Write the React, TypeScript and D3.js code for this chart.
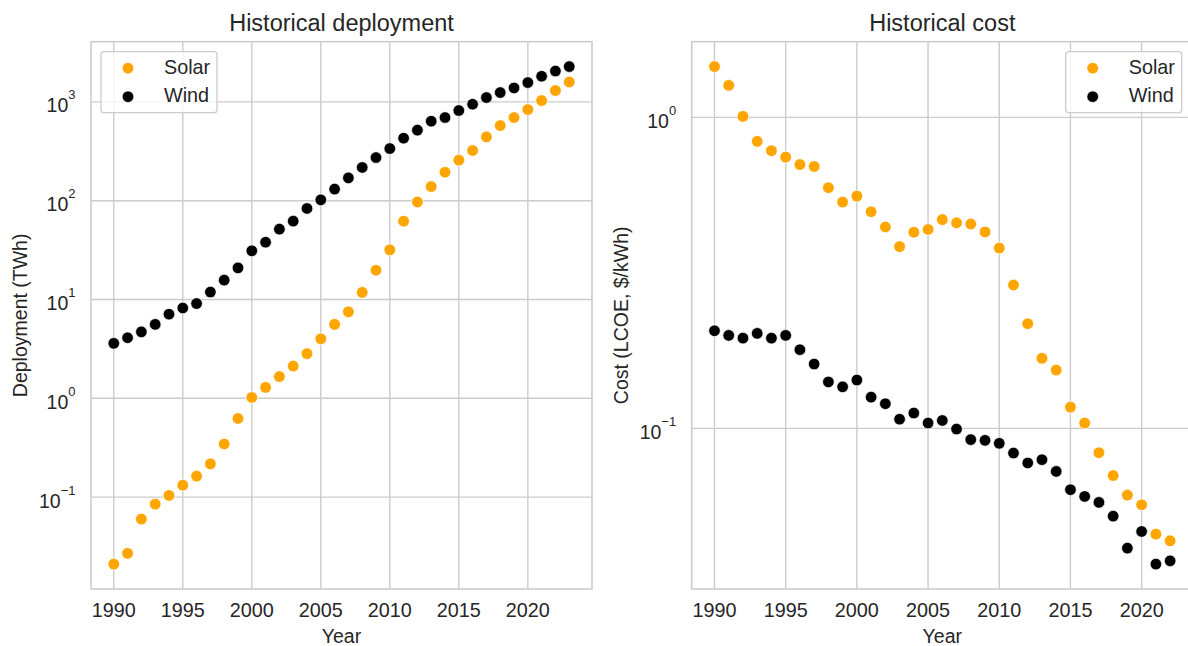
import React from "react";
import * as d3 from "d3";

const years = d3.range(1990, 2024);
const costYears = d3.range(1990, 2023);

const solarDeploy = [0.021, 0.027, 0.06, 0.085, 0.104, 0.132, 0.163, 0.217, 0.345, 0.625, 1.02, 1.29, 1.66, 2.12, 2.83, 4.0, 5.6, 7.5, 11.8, 19.8, 31.8, 62, 97, 139, 194, 257, 322, 442, 576, 694, 836, 1030, 1300, 1589];
const windDeploy = [3.6, 4.1, 4.7, 5.6, 7.1, 8.2, 9.1, 11.9, 15.7, 20.9, 31.1, 38.0, 51.5, 62.1, 83.4, 102, 131, 170, 217, 273, 337, 429, 517, 637, 694, 817, 946, 1105, 1242, 1383, 1567, 1815, 2051, 2275];

const solarCost = [1.456, 1.267, 1.007, 0.837, 0.781, 0.745, 0.705, 0.695, 0.594, 0.534, 0.558, 0.497, 0.444, 0.384, 0.427, 0.436, 0.469, 0.458, 0.454, 0.428, 0.38, 0.289, 0.217, 0.168, 0.154, 0.117, 0.104, 0.0835, 0.0705, 0.061, 0.0568, 0.0457, 0.0435];
const windCost = [0.206, 0.199, 0.195, 0.202, 0.195, 0.199, 0.179, 0.161, 0.141, 0.136, 0.143, 0.126, 0.12, 0.107, 0.112, 0.104, 0.106, 0.0995, 0.092, 0.0915, 0.0895, 0.0833, 0.0774, 0.0793, 0.0727, 0.0635, 0.0604, 0.0578, 0.0522, 0.0412, 0.0466, 0.0366, 0.0375];

const xTicks = [1990, 1995, 2000, 2005, 2010, 2015, 2020];
const leftYTicks = [-1, 0, 1, 2, 3];
const rightYTicks = [-1, 0];

const ORANGE = "#FFA500";
const BLACK = "#000000";
const GRID = "#cccccc";
const TEXT = "#262626";
const FONT = "'Liberation Sans', Arial, sans-serif";

function logDomain(vals: number[]) {
  const lo = Math.log10(d3.min(vals) as number);
  const hi = Math.log10(d3.max(vals) as number);
  const m = (hi - lo) * 0.05;
  return [Math.pow(10, lo - m), Math.pow(10, hi + m)];
}
function linDomain(vals: number[]) {
  const lo = d3.min(vals) as number;
  const hi = d3.max(vals) as number;
  const m = (hi - lo) * 0.05;
  return [lo - m, hi + m];
}

type PanelProps = {
  x0: number; x1: number; y0: number; y1: number;
  yrs: number[]; solar: number[]; wind: number[];
  yTicks: number[]; title: string; ylabel: string; ylabelX: number;
  legendRight: boolean;
};

function Panel(p: PanelProps) {
  const xs = d3.scaleLinear().domain(linDomain(p.yrs)).range([p.x0, p.x1]);
  const ys = d3.scaleLog().domain(logDomain([...p.solar, ...p.wind])).range([p.y1, p.y0]);
  const cx = (p.x0 + p.x1) / 2;
  const cy = (p.y0 + p.y1) / 2;
  const clipId = "clip" + Math.round(p.x0);
  const lw = 116, lh = 61;
  const lx = p.legendRight ? 1065.7 : p.x0 + 10;
  const ly = p.y0 + 10;
  return (
    <g>
      <defs>
        <clipPath id={clipId}>
          <rect x={p.x0} y={p.y0} width={p.x1 - p.x0} height={p.y1 - p.y0} />
        </clipPath>
      </defs>
      {xTicks.map((t) => (
        <line key={"gx" + t} x1={xs(t)} x2={xs(t)} y1={p.y0} y2={p.y1} stroke={GRID} strokeWidth={1.4} />
      ))}
      {p.yTicks.map((e) => (
        <line key={"gy" + e} x1={p.x0} x2={p.x1} y1={ys(Math.pow(10, e))} y2={ys(Math.pow(10, e))} stroke={GRID} strokeWidth={1.4} />
      ))}
      <rect x={p.x0} y={p.y0} width={p.x1 - p.x0} height={p.y1 - p.y0} fill="none" stroke={GRID} strokeWidth={1.6} />
      <g clipPath={`url(#${clipId})`}>
        {p.solar.map((v, i) => (
          <circle key={"s" + i} cx={xs(p.yrs[i])} cy={ys(v)} r={5.8} fill={ORANGE} stroke="#fff" strokeWidth={0.7} />
        ))}
        {p.wind.map((v, i) => (
          <circle key={"w" + i} cx={xs(p.yrs[i])} cy={ys(v)} r={5.8} fill={BLACK} stroke="#fff" strokeWidth={0.7} />
        ))}
      </g>
      {xTicks.map((t) => (
        <text key={"tx" + t} x={xs(t)} y={617.3} textAnchor="middle" fontSize={19.8} fill={TEXT} fontFamily={FONT}>{t}</text>
      ))}
      {p.yTicks.map((e) => (
        <text key={"ty" + e} x={p.x0 - 15.5} y={ys(Math.pow(10, e)) + 10.5} textAnchor="end" fontSize={19.5} fill={TEXT} fontFamily={FONT}>
          10<tspan fontSize={13} dy={-13}>{e < 0 ? "\u2212" + Math.abs(e) : String(e)}</tspan>
        </text>
      ))}
      <text x={cx} y={643} textAnchor="middle" fontSize={19.5} fill={TEXT} fontFamily={FONT}>Year</text>
      <text transform={`translate(${p.ylabelX},${cy}) rotate(-90)`} textAnchor="middle" fontSize={19.5} fill={TEXT} fontFamily={FONT}>{p.ylabel}</text>
      <text x={cx} y={30.5} textAnchor="middle" fontSize={23.5} fill={TEXT} fontFamily={FONT}>{p.title}</text>
      <g>
        <rect x={lx} y={ly} width={lw} height={lh} rx={3} fill="#fff" fillOpacity={0.8} stroke={GRID} strokeWidth={1.3} />
        <circle cx={lx + 27} cy={ly + 16.5} r={5.8} fill={ORANGE} stroke="#fff" strokeWidth={0.7} />
        <circle cx={lx + 27} cy={ly + 45} r={5.8} fill={BLACK} stroke="#fff" strokeWidth={0.7} />
        <text x={lx + 63} y={ly + 22.3} fontSize={19.8} fill={TEXT} fontFamily={FONT}>Solar</text>
        <text x={lx + 63} y={ly + 50} fontSize={19.8} fill={TEXT} fontFamily={FONT}>Wind</text>
      </g>
    </g>
  );
}

export default function App() {
  return (
    <div style={{ position: "absolute", left: 0, top: 0 }}>
      <svg width={1188} height={646} viewBox="0 0 1188 646" style={{ display: "block", background: "#fff" }}>
        <rect x={0} y={0} width={1188} height={646} fill="#fff" />
        <Panel x0={91} x1={592} y0={41.7} y1={589} yrs={years} solar={solarDeploy} wind={windDeploy}
          yTicks={leftYTicks} title="Historical deployment" ylabel="Deployment (TWh)" ylabelX={27} legendRight={false} />
        <Panel x0={691.7} x1={1192.9} y0={41.7} y1={589} yrs={costYears} solar={solarCost} wind={windCost}
          yTicks={rightYTicks} title="Historical cost" ylabel="Cost (LCOE, $/kWh)" ylabelX={628} legendRight={true} />
      </svg>
    </div>
  );
}
